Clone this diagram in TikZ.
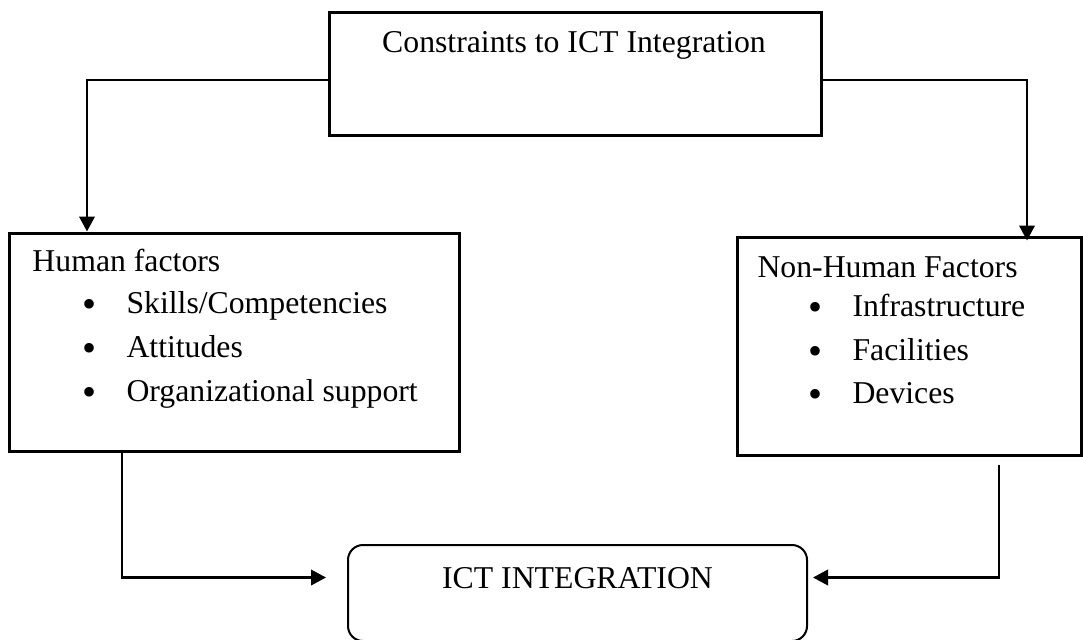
\documentclass[tikz,border=0pt]{standalone}
\usepackage{fontspec}
\setmainfont{Liberation Serif}
\usetikzlibrary{arrows.meta}
\tikzset{
  box/.style={draw,line width=1.2pt,inner sep=0pt},
  ictbox/.style={draw,line width=0.8pt,rounded corners=6pt,inner sep=0pt},
  txt/.style={inner sep=0pt,font=\fontsize{12.7}{15}\selectfont},
  link/.style={line width=0.9pt,-{Triangle[length=6pt,width=6.2pt]}}
}
\newcommand{\bul}{\makebox[17.6pt][l]{\raisebox{-1.8pt}{\fontsize{16}{16}\selectfont\textbullet}}}
\begin{document}
\begin{tikzpicture}[x=0.4pt,y=-0.4pt]
            \useasboundingbox (0,0) rectangle (1083,639);

            \node[box,minimum width=196.8pt,minimum height=48.8pt] (constraints) at (575,74) {};
            \node[box,minimum width=179.6pt,minimum height=87.2pt] (human) at (234.5,342) {};
            \node[box,minimum width=137.6pt,minimum height=87.2pt] (nonhuman) at (909,346) {};
            \node[ictbox,minimum width=183.6pt,minimum height=38.4pt] (ict) at (577.5,593) {};

            \node[txt,anchor=base] (title) at (574,53) {Constraints to ICT Integration};
            \node[txt,anchor=base west] (humanhead) at (32,271) {Human factors};
            \node[txt,anchor=base west] (skills) at (82,313) {\bul Skills/Competencies};
            \node[txt,anchor=base west] (attitudes) at (82,357) {\bul Attitudes};
            \node[txt,anchor=base west] (orgsupport) at (82,401) {\bul Organizational support};
            \node[txt,anchor=base west] (nonhumanhead) at (757,277) {Non-Human Factors};
            \node[txt,anchor=base west] (infra) at (808,316) {\bul Infrastructure};
            \node[txt,anchor=base west] (facilities) at (808,360) {\bul Facilities};
            \node[txt,anchor=base west] (devices) at (808,403) {\bul Devices};
            \node[txt,anchor=base] (icttext) at (577.5,588) {ICT INTEGRATION};

            \draw[link] ([yshift=-2.4pt]constraints.west) -| ([xshift=-59pt]human.north);
            \draw[link] ([yshift=-2.4pt]constraints.east) -| ([xshift=47.2pt,yshift=-2pt]nonhuman.north);
            \draw[link] ([xshift=-45pt]human.south) |- ([xshift=-8.4pt,yshift=6.2pt]ict.west);
            \draw[link] ([xshift=36pt,yshift=-3.2pt]nonhuman.south) |- ([xshift=2pt,yshift=6.2pt]ict.east);
        \end{tikzpicture}
\end{document}
